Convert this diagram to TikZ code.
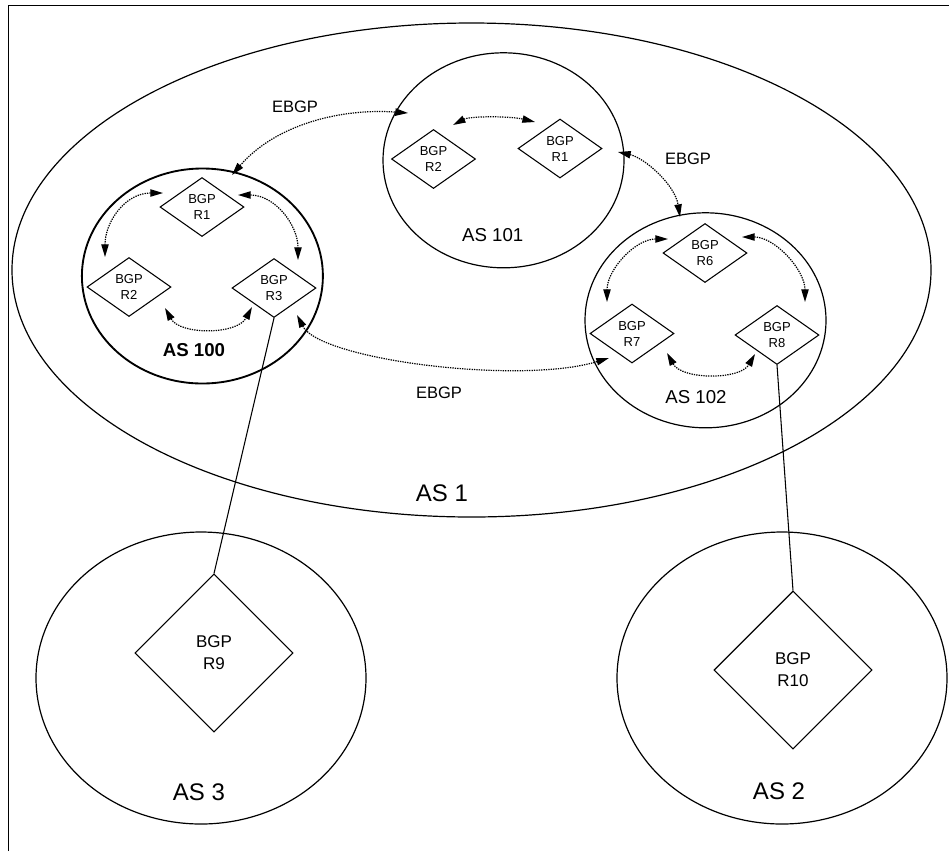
\documentclass[tikz,border=0pt]{standalone}
\usepackage{fontspec}
\setmainfont{Liberation Sans}
\usetikzlibrary{shapes.geometric,arrows.meta}
\begin{document}
\begin{tikzpicture}[x=0.75pt,y=-0.75pt,
  as/.style={ellipse,draw,line width=0.9pt,inner sep=0pt},
  smallas/.style={as,minimum width=180.75pt,minimum height=161.25pt},
  outeras/.style={as,minimum width=247.5pt,minimum height=219pt},
  router/.style={diamond,draw,line width=0.8pt,inner sep=0pt,align=center,
     font=\fontsize{9.75}{12}\selectfont,minimum width=63pt,minimum height=44.25pt},
  bigrouter/.style={diamond,draw,line width=0.8pt,inner sep=0pt,align=center,
     font=\fontsize{12.75}{16.5}\selectfont,minimum width=118.5pt,minimum height=118.5pt},
  ibgp/.style={line width=0.9pt,dash pattern=on 1pt off 0.8pt,
     {Triangle[length=9.5pt,width=5.5pt]}-{Triangle[length=9.5pt,width=5.5pt]}},
  link/.style={line width=0.8pt},
  lbl/.style={inner sep=0pt,font=\fontsize{14}{16}\selectfont},
  biglbl/.style={inner sep=0pt,font=\fontsize{18}{20}\selectfont},
  ebgplbl/.style={inner sep=0pt,font=\fontsize{12.4}{14}\selectfont}]

\useasboundingbox (0,0) rectangle (949,851);

% frame
\draw[line width=1.1pt] (8.5,851) -- (8.5,5.5) -- (949,5.5);

% autonomous systems
\node[as,minimum width=689.25pt,minimum height=370.5pt] (as1) at (471.5,270) {};
\node[smallas,line width=1.4pt] (as100) at (202.4,276) {};
\node[smallas] (as101) at (503.5,160.3) {};
\node[smallas] (as102) at (705.5,320.3) {};
\node[outeras] (as3) at (201,678) {};
\node[outeras] (as2) at (782,678) {};

% labels
\node[biglbl] (las1) at (442,493) {AS 1};
\node[lbl,font=\fontsize{14}{16}\selectfont\bfseries] (las100) at (194,350) {AS 100};
\node[lbl] (las101) at (492.7,235) {AS 101};
\node[lbl] (las102) at (696,397) {AS 102};
\node[biglbl] (las3) at (199,792) {AS 3};
\node[biglbl] (las2) at (779,791) {AS 2};
\node[ebgplbl] (e1) at (295,107) {EBGP};
\node[ebgplbl] (e2) at (688,159) {EBGP};
\node[ebgplbl] (e3) at (439,393) {EBGP};

% routers
\node[router] (r1a) at (202,207) {BGP\\R1};
\node[router] (r2a) at (129,287) {BGP\\R2};
\node[router] (r3a) at (274,288) {BGP\\R3};
\node[router] (r2b) at (433.5,159) {BGP\\R2};
\node[router] (r1b) at (560,148.5) {BGP\\R1};
\node[router] (r6) at (705,253) {BGP\\R6};
\node[router] (r7) at (632,333.5) {BGP\\R7};
\node[router] (r8) at (777,335) {BGP\\R8};
\node[bigrouter] (r9) at (214,653) {BGP\\R9};
\node[bigrouter] (r10) at (793,670) {BGP\\R10};

% physical links
\draw[link] (r3a.south) -- (r9.north);
\draw[link] (r8.south) -- (r10.north);

% IBGP sessions AS 100
\draw[ibgp] ([shift={(-39,-14)}]r1a.center) .. controls +(-38,0) and +(0,-35) .. ([shift={(-24,-30)}]r2a.center);
\draw[ibgp] ([shift={(36,-12)}]r1a.center) .. controls +(37,0) and +(0,-35) .. ([shift={(24,-28)}]r3a.center);
\draw[ibgp] ([shift={(36,21)}]r2a.center) .. controls +(15,27) and +(-15,28) .. ([shift={(-22,19)}]r3a.center);

% IBGP session AS 101
\draw[ibgp] ([shift={(19.5,-34)}]r2b.center) .. controls +(17,-9) and +(-25,-6) .. ([shift={(-25,-26.5)}]r1b.center);

% IBGP sessions AS 102
\draw[ibgp] ([shift={(-37,-14)}]r6.center) .. controls +(-33,0) and +(0,-32) .. ([shift={(-25,-31.5)}]r7.center);
\draw[ibgp] ([shift={(37,-16)}]r6.center) .. controls +(33,0) and +(0,-32) .. ([shift={(28,-33)}]r8.center);
\draw[ibgp] ([shift={(35,19.5)}]r7.center) .. controls +(15,27) and +(-15,26) .. ([shift={(-22,19)}]r8.center);

% EBGP sessions
\draw[ibgp] ([shift={(29.6,-101)}]as100.center) .. controls +(43,-50) and +(-68,-5) .. ([shift={(-95.5,-47.3)}]as101.center);
\draw[ibgp] ([shift={(58,3.5)}]r1b.center) .. controls +(27,6) and +(-5,-32) .. ([shift={(-25.5,-103.3)}]as102.center);
\draw[ibgp] ([shift={(23,27)}]r3a.center) .. controls +(23,45) and +(-89,27) .. ([shift={(-23,24.5)}]r7.center);

\end{tikzpicture}
\end{document}
